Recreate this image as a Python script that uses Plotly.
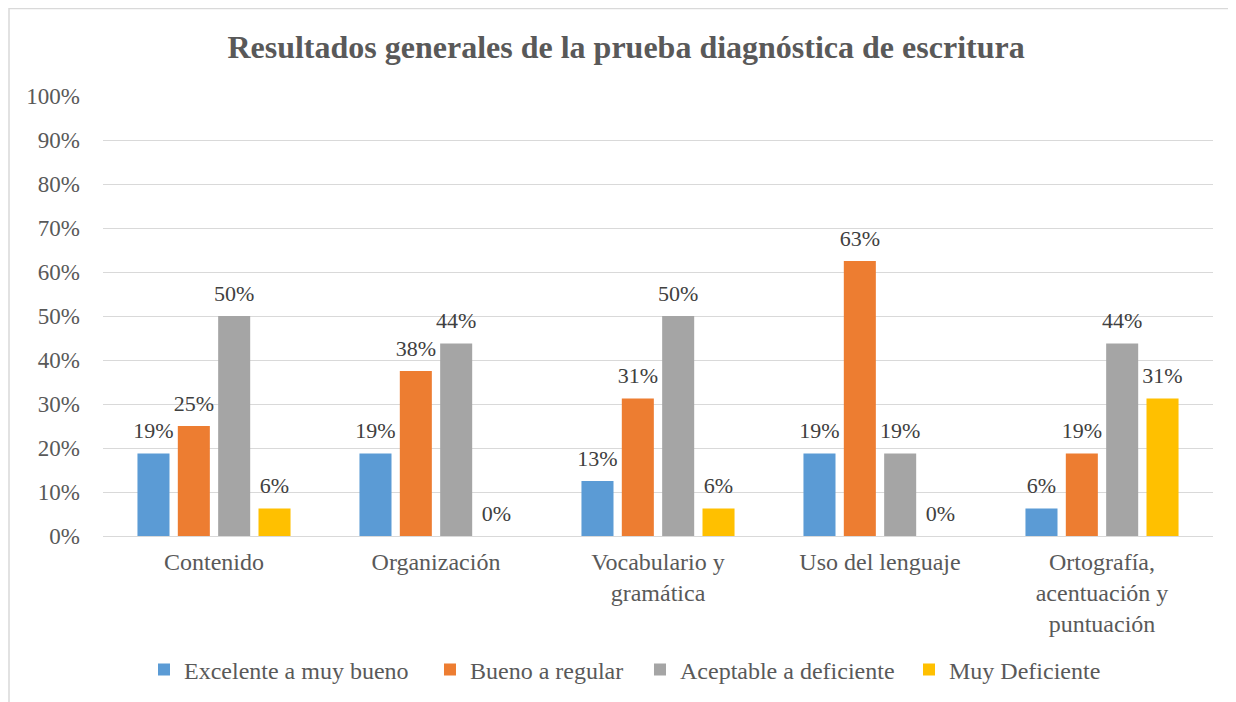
import plotly.graph_objects as go

categories = ["Contenido", "Organización", "Vocabulario y<br>gramática",
              "Uso del lenguaje", "Ortografía,<br>acentuación y<br>puntuación"]
series_names = ["Excelente a muy bueno", "Bueno a regular",
                "Aceptable a deficiente", "Muy Deficiente"]
excelente = [0.1875, 0.1875, 0.125, 0.1875, 0.0625]
bueno = [0.25, 0.375, 0.3125, 0.625, 0.1875]
aceptable = [0.50, 0.4375, 0.50, 0.1875, 0.4375]
muy_def = [0.0625, 0.0, 0.0625, 0.0, 0.3125]
colors = ["#5B9BD5", "#ED7D31", "#A5A5A5", "#FFC000"]
y_ticks = [i / 10 for i in range(11)]

FONT = "Liberation Serif"
BARGAP = 0.273
legend_x = [0.03694, 0.29459, 0.48378, 0.72613]
legend_ids = ["legend", "legend2", "legend3", "legend4"]

fig = go.Figure()
all_series = [excelente, bueno, aceptable, muy_def]
for i, (name, vals, col) in enumerate(zip(series_names, all_series, colors)):
    fig.add_trace(go.Bar(
        x=categories, y=vals, name=name,
        marker=dict(color=col, line=dict(width=0)),
        legend=legend_ids[i],
    ))
for i, vals in enumerate(all_series):
    fig.add_trace(go.Scatter(
        x=categories, y=vals, mode="markers+text",
        text=[f"{int(v * 100 + 0.5)}%" for v in vals],
        textposition="top center", cliponaxis=False,
        textfont=dict(family=FONT, size=22, color="#404040"),
        marker=dict(size=14, color="rgba(0,0,0,0)"),
        showlegend=False, hoverinfo="skip",
        offsetgroup=f"t{i}", alignmentgroup="txt",
    ))

legend_common = dict(orientation="h", xref="paper", xanchor="left",
                     yref="container", y=0.0461, yanchor="middle", borderwidth=0,
                     bgcolor="rgba(0,0,0,0)",
                     font=dict(family=FONT, size=24, color="#595959"))

fig.update_layout(
    width=1228, height=694,
    margin=dict(l=95, r=23, t=88, b=166, autoexpand=False),
    paper_bgcolor="white", plot_bgcolor="white",
    barmode="group", bargap=BARGAP, bargroupgap=0.206,
    scattermode="group", scattergap=BARGAP,
    font=dict(family=FONT, size=22, color="#595959"),
    title=dict(text="<b>Resultados generales de la prueba diagnóstica de escritura</b>",
               x=0.4712, xref="paper", xanchor="center", y=0.9438, yanchor="middle",
               font=dict(family=FONT, size=32, color="#595959")),
    showlegend=True,
    shapes=[dict(type="path", xref="x domain", yref="y domain",
                 path="M -0.08468 -0.5 L -0.08468 1.1989 L 1.1 1.1989",
                 line=dict(color="#D9D9D9", width=1.5))],
)
for lid, lx in zip(legend_ids, legend_x):
    fig.update_layout({lid: dict(legend_common, x=lx)})

fig.update_yaxes(range=[0, 1], tickvals=y_ticks, tickformat=".0%",
                 showgrid=True, gridcolor="#D9D9D9", gridwidth=1.3,
                 zeroline=True, zerolinecolor="#D9D9D9", zerolinewidth=1.3,
                 showline=False, ticks="", ticklabelstandoff=22, automargin=False,
                 tickfont=dict(family=FONT, size=23, color="#595959"))
fig.update_xaxes(showline=False, ticks="", showgrid=False, automargin=False,
                 tickfont=dict(family=FONT, size=24, color="#595959"),
                 ticklabelstandoff=9)

fig.write_html("out.html")
